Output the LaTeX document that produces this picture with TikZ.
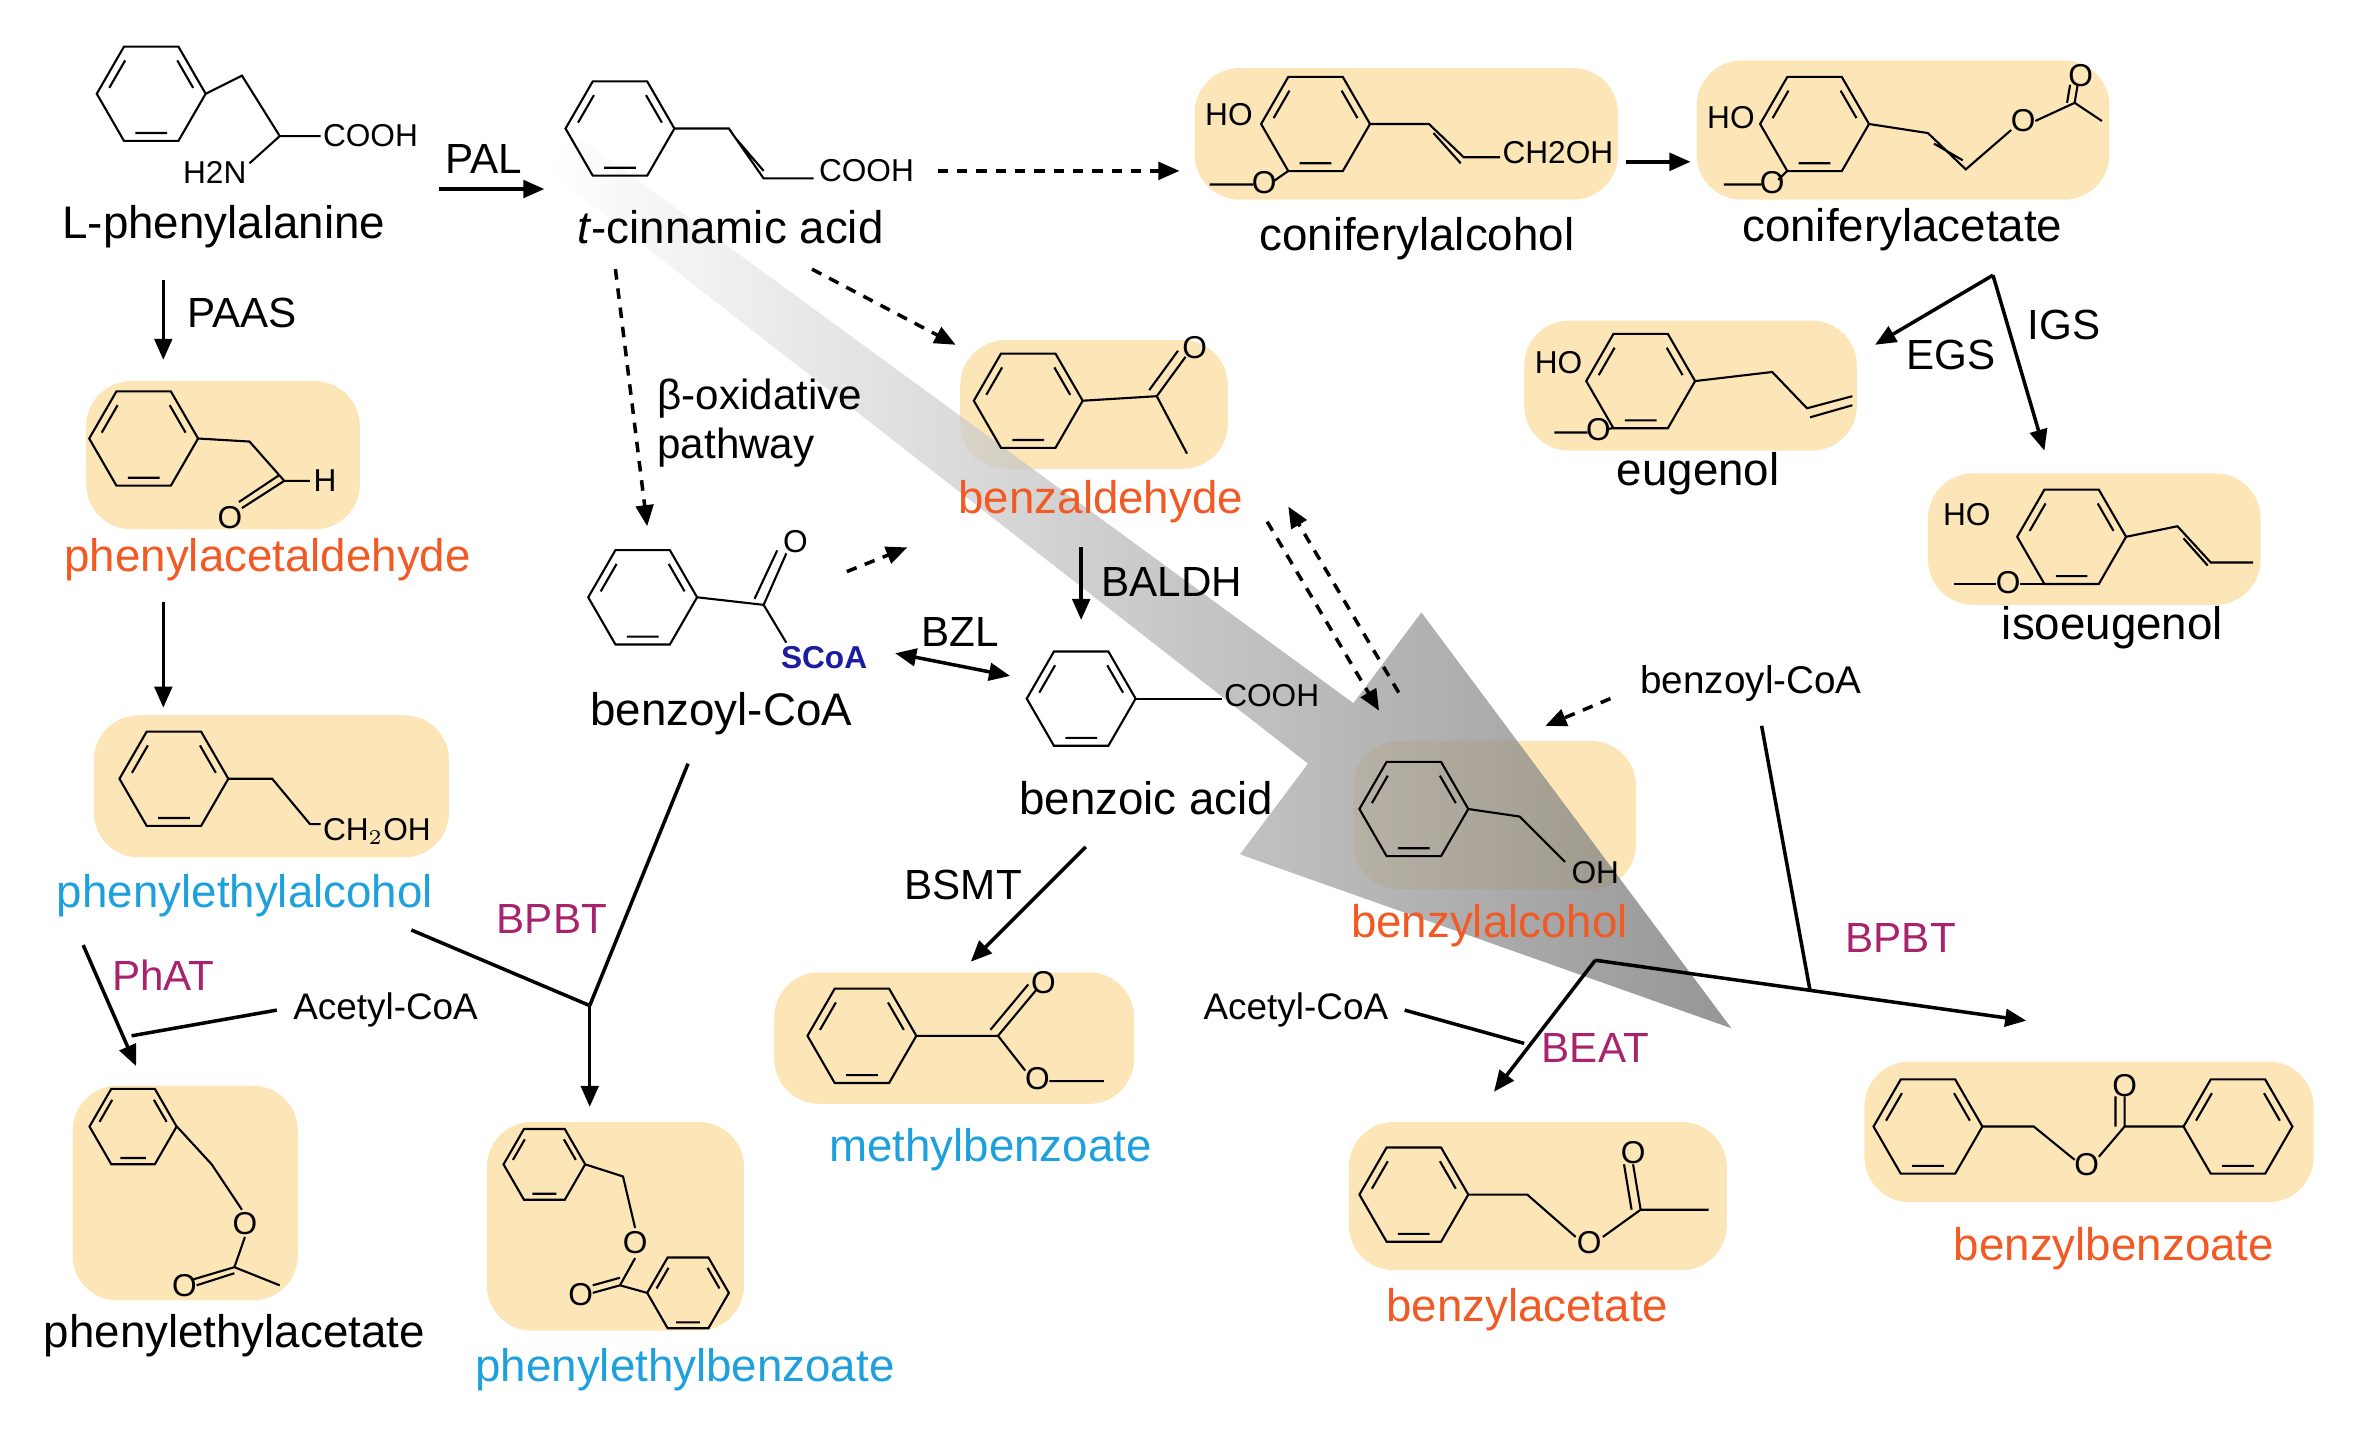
\documentclass[tikz,border=0pt]{standalone}
\usepackage{fontspec}
\setmainfont{Liberation Sans}
\usetikzlibrary{arrows.meta,positioning}
\definecolor{boxc}{HTML}{FCE6B8}
\definecolor{orng}{HTML}{F15A24}
\definecolor{blu}{HTML}{1EA0DC}
\definecolor{mag}{HTML}{A8236E}
\definecolor{scoa}{HTML}{1C1C9E}
\tikzset{
  bond/.style={line width=0.6pt},
  ring/.pic={
    \draw[bond] (0:36)--(60:36)--(120:36)--(180:36)--(240:36)--(300:36)--cycle;
    \draw[bond] (68:28)--(112:28) (188:28)--(232:28) (308:28)--(352:28);
  },
  box/.style={fill=boxc, rounded corners=0.45cm},
  lbl/.style={font=\fontsize{13}{15}\selectfont, inner sep=1pt},
  sm/.style={font=\fontsize{9}{10}\selectfont, inner sep=0.5pt},
  enz/.style={font=\fontsize{12}{14}\selectfont, inner sep=1pt},
  arr/.style={-{Triangle[length=6pt,width=5pt]}, line width=1pt},
  darr/.style={arr, dash pattern=on 3pt off 2.5pt}
}
\begin{document}
\begin{tikzpicture}[x=0.01512cm, y=-0.01512cm]
  \useasboundingbox (0,0) rectangle (1568,950);
  % yellow boxes
  \fill[box] (790,45) rectangle (1070,132);
  \fill[box] (1122,40) rectangle (1395,132);
  \fill[box] (1008,212) rectangle (1228,298);
  \fill[box] (1275,313) rectangle (1495,400);
  \fill[box] (57,252) rectangle (238,350);
  \fill[box] (62,473) rectangle (297,567);
  \fill[box] (48,718) rectangle (197,860);
  \fill[box] (322,742) rectangle (492,880);
  \fill[box] (635,225) rectangle (812,310);
  \fill[box] (895,490) rectangle (1082,588);
  \fill[box] (512,643) rectangle (750,730);
  \fill[box] (892,742) rectangle (1142,840);
  \fill[box] (1233,702) rectangle (1530,795);
  % big arrow
  \shade[left color=white, right color=black!55, opacity=0.75]
    (379,88)--(895,465)--(940,405)--(1145,680)--(820,565)--(865,505)--(361,112)--cycle;

  % L-phenylalanine
  \pic at (100,62) {ring};
  \draw[bond] (136,62)--(160,50)--(185,90)--(212,90) (185,90)--(165,108);
  \node[sm,anchor=west] at (212,90) {COOH};
  \node[sm] at (142,114) {H2N};
  \node[lbl] (phe) at (148,150) {L-phenylalanine};
  % t-cinnamic acid
  \pic at (410,85) {ring};
  \draw[bond] (446,85)--(482,85)--(505,118)--(538,118) (487,92)--(505,113);
  \node[sm,anchor=west] at (540,113) {COOH};
  \node[lbl] (cin) at (483,150) {\textit{t}-cinnamic acid};
  % coniferylalcohol
  \pic at (870,82) {ring};
  \node[sm,anchor=east] at (830,76) {HO};
  \draw[bond] (852,113)--(842,120) (829,122)--(800,122);
  \node[sm] at (836,121) {O};
  \draw[bond] (906,82)--(945,82)--(968,104)--(992,104) (948,88)--(966,108);
  \node[sm,anchor=west] at (992,101) {CH2OH};
  \node[lbl] (cona) at (937,158) {coniferylalcohol};
  % coniferylacetate
  \pic at (1200,82) {ring};
  \node[sm,anchor=east] at (1162,78) {HO};
  \draw[bond] (1182,113)--(1176,119) (1165,122)--(1140,122);
  \node[sm] at (1172,121) {O};
  \draw[bond] (1236,82)--(1275,88)--(1300,112)--(1330,86) (1279,95)--(1298,106);
  \node[sm] at (1338,80) {O};
  \draw[bond] (1346,80)--(1372,68)--(1390,80) (1372,68)--(1374,56) (1367,68)--(1369,56);
  \node[sm] at (1376,50) {O};
  \node[lbl] (conac) at (1258,152) {coniferylacetate};
  % eugenol
  \pic at (1085,252) {ring};
  \node[sm,anchor=east] at (1048,240) {HO};
  \draw[bond] (1067,283)--(1062,284) (1050,286)--(1028,286);
  \node[sm] at (1057,284) {O};
  \draw[bond] (1121,252)--(1172,246)--(1195,270)--(1225,262) (1197,276)--(1225,268);
  \node[lbl] (eug) at (1123,313) {eugenol};
  % isoeugenol
  \pic at (1370,355) {ring};
  \node[sm,anchor=east] at (1318,340) {HO};
  \draw[bond] (1352,386)--(1336,386) (1320,386)--(1292,386);
  \node[sm] at (1328,385) {O};
  \draw[bond] (1406,355)--(1440,348)--(1462,372)--(1490,372) (1444,356)--(1460,374);
  \node[lbl] (iso) at (1397,415) {isoeugenol};
  % phenylacetaldehyde
  \pic at (95,290) {ring};
  \draw[bond] (131,290)--(165,292)--(188,318)--(205,318) (188,318)--(160,336) (185,314)--(158,332);
  \node[sm] at (152,342) {O};
  \node[sm] at (215,318) {H};
  \node[lbl,text=orng] (pald) at (177,370) {phenylacetaldehyde};
  % phenylethylalcohol
  \pic at (115,515) {ring};
  \draw[bond] (151,515)--(180,515)--(205,545)--(212,545);
  \node[sm,anchor=west] at (212,550) {CH$_2$OH};
  \node[lbl,text=blu] (palc) at (162,592) {phenylethylalcohol};
  % phenylethylacetate
  \pic[scale=0.8] at (88,745) {ring};
  \draw[bond] (117,745)--(140,770)--(160,800) (162,818)--(155,838)--(128,846) (155,842)--(130,850) (155,838)--(185,850);
  \node[sm] at (162,809) {O};
  \node[sm] at (122,850) {O};
  \node[lbl] (peac) at (155,883) {phenylethylacetate};
  % phenylethylbenzoate
  \pic[scale=0.75] at (360,770) {ring};
  \draw[bond] (387,770)--(412,778)--(420,812) (420,832)--(410,850)--(392,855) (410,845)--(392,850) (410,850)--(428,855);
  \node[sm] at (420,822) {O};
  \node[sm] at (384,856) {O};
  \pic[scale=0.75] at (455,855) {ring};
  \node[lbl,text=blu] (peb) at (453,906) {phenylethylbenzoate};
  % benzaldehyde
  \pic at (680,265) {ring};
  \draw[bond] (716,265)--(765,262)--(785,300) (765,262)--(784,236) (760,258)--(779,232);
  \node[sm] at (790,230) {O};
  \node[lbl,text=orng] (bald) at (728,332) {benzaldehyde};
  % benzoyl-CoA
  \pic at (425,395) {ring};
  \draw[bond] (461,395)--(505,400)--(520,425) (505,400)--(520,366) (499,396)--(514,364);
  \node[sm] at (526,358) {O};
  \node[sm,text=scoa,font=\fontsize{9}{10}\selectfont\bfseries] (scoa) at (545,435) {SCoA};
  \node[lbl] (bcoa) at (477,472) {benzoyl-CoA};
  % benzoic acid
  \pic at (715,462) {ring};
  \draw[bond] (751,462)--(808,462);
  \node[sm,anchor=west] at (808,460) {COOH};
  \node[lbl] (bacid) at (758,528) {benzoic acid};
  % benzylalcohol
  \pic at (935,535) {ring};
  \draw[bond] (971,535)--(1005,540)--(1035,570);
  \node[sm] at (1055,577) {OH};
  \node[lbl,text=orng] (balc) at (985,612) {benzylalcohol};
  % methylbenzoate
  \pic at (570,685) {ring};
  \draw[bond] (606,685)--(660,685)--(685,655) (655,681)--(680,651) (660,685)--(678,708) (694,715)--(730,715);
  \node[sm] at (690,650) {O};
  \node[sm] at (686,713) {O};
  \node[lbl,text=blu] (mb) at (655,760) {methylbenzoate};
  % benzylacetate
  \pic at (935,790) {ring};
  \draw[bond] (971,790)--(1010,790)--(1042,818) (1060,818)--(1085,800)--(1080,770) (1079,800)--(1074,770) (1085,800)--(1130,800);
  \node[sm] at (1051,822) {O};
  \node[sm] at (1080,762) {O};
  \node[lbl,text=orng] (bac) at (1010,866) {benzylacetate};
  % benzylbenzoate
  \pic at (1275,745) {ring};
  \draw[bond] (1311,745)--(1345,745)--(1372,767) (1388,765)--(1405,745)--(1405,725) (1399,745)--(1399,725) (1405,745)--(1444,745);
  \node[sm] at (1380,770) {O};
  \node[sm] at (1405,718) {O};
  \pic at (1480,745) {ring};
  \node[lbl,text=orng] (bb) at (1398,826) {benzylbenzoate};

  % enzyme labels and cofactors
  \node[enz] (pal) at (320,105) {PAL};
  \node[enz] (paas) at (160,207) {PAAS};
  \node[enz] (egs) at (1290,235) {EGS};
  \node[enz] (igs) at (1365,215) {IGS};
  \node[enz,text=mag] (phat) at (108,645) {PhAT};
  \node[enz,text=mag] (bpbt1) at (365,608) {BPBT};
  \node[enz,text=mag] (bpbt2) at (1257,620) {BPBT};
  \node[enz,text=mag] (beat) at (1055,693) {BEAT};
  \node[enz] (bzl) at (635,418) {BZL};
  \node[enz] (baldh) at (775,385) {BALDH};
  \node[enz] (bsmt) at (637,585) {BSMT};
  \node[enz,align=left,anchor=west] (boxp) at (432,280) {β-oxidative\\pathway};
  \node[sm,font=\fontsize{10.5}{12}\selectfont] (ac1) at (255,668) {Acetyl-CoA};
  \node[sm,font=\fontsize{10.5}{12}\selectfont] (ac2) at (857,668) {Acetyl-CoA};
  \node[sm,font=\fontsize{11}{13}\selectfont] (bcoa2) at (1158,452) {benzoyl-CoA};

  % junction coordinates
  \coordinate (j1) at (390,665);
  \coordinate (j2) at (1055,635);
  \coordinate (j3) at (1197,655);
  \coordinate (j4) at (1318,182);
  \coordinate (j5) at (87,685);

  % arrows
  \draw[arr] (290,125) -- (360,125);
  \draw[darr] (620,113) -- (780,113);
  \draw[arr] (1075,107) -- (1118,107);
  \draw[arr] (j4) -- (1240,228);
  \draw[arr] (j4) -- (1352,298);
  \draw[arr] (108,185) -- (108,238);
  \draw[arr] (108,398) -- (108,468);
  \draw[arr] (55,625) -- (90,705);
  \draw[line width=1pt] ([xshift=-4pt]ac1.west) -- (j5);
  \draw[line width=1pt] (272,615) -- (j1) (455,505) -- (j1);
  \draw[arr] (j1) -- (390,732);
  \draw[darr] (407,178) -- (428,348);
  \draw[darr] (537,178) -- (632,228);
  \draw[darr] (560,378) -- (600,362);
  \draw[{Triangle[length=6pt,width=5pt]}-{Triangle[length=6pt,width=5pt]}, line width=1pt] (592,432) -- (668,447);
  \draw[arr] (715,362) -- (715,410);
  \draw[darr] (838,345) -- (912,470);
  \draw[darr] (925,458) -- (852,335);
  \draw[darr] (1065,462) -- (1022,480);
  \draw[arr] (718,560) -- (642,636);
  \draw[arr] (j2) -- (988,722);
  \draw[line width=1pt] ([xshift=4pt]ac2.east) -- (1008,690);
  \draw[arr] (j2) -- (1340,675);
  \draw[line width=1pt] (1165,480) -- (j3);
\end{tikzpicture}
\end{document}
